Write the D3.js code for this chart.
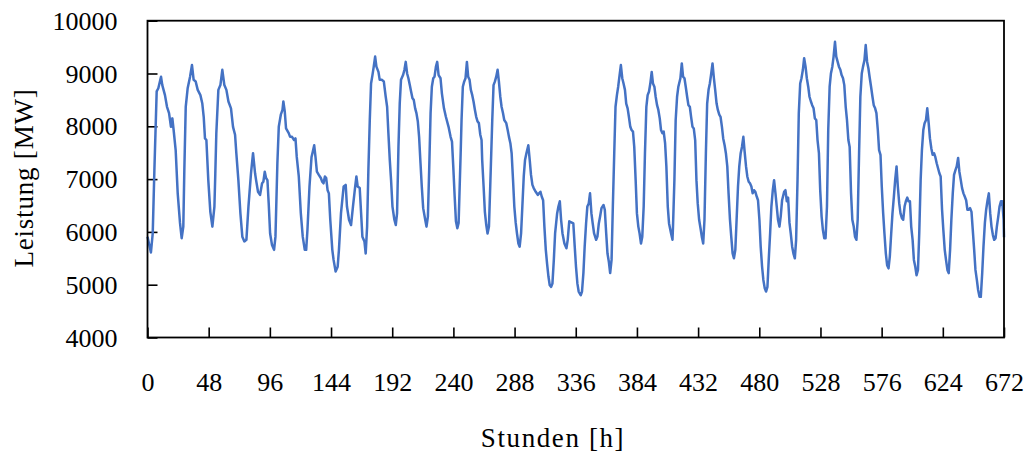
<!DOCTYPE html>
<html>
<head>
<meta charset="utf-8">
<script src="https://cdn.jsdelivr.net/npm/d3@7"></script>
<style>
  body { margin: 0; background: #fff; }
  text { font-family: "Liberation Serif", "DejaVu Serif", serif; fill: #000; }
</style>
</head>
<body>
<script>
// hours, with the matching load in MW
var hours = [
  0, 2.7, 4.1, 5.4, 7.2, 8.5, 10.6, 11.6, 13.7, 15.3, 16.9, 18.4, 19.5, 20.5, 22.1, 23.7, 25.5, 26.8, 28.1, 28.9,
  30, 31.5, 33.4, 34.9, 36.2, 37.8, 39.4, 41.5, 43, 44.1, 45.1, 46.2, 47.7, 49.3, 50.9, 52.5, 53.2, 54, 55.6, 57.2,
  58.7, 60.3, 61.9, 63.5, 65.5, 67.1, 68.7, 69.7, 71.3, 72.9, 74.4, 76, 77.6, 79.2, 81.2, 82.8, 84.4, 85.2, 86.7, 88.3,
  89.9, 90.9, 92, 93, 94.1, 95.1, 96.2, 97.7, 99.3, 100.4, 101.9, 103, 104.6, 105.9, 106.6, 107.7, 108.7, 110.8, 111.9, 113.4,
  115, 116.1, 117.1, 118.7, 120.3, 121.8, 123.4, 124.5, 125.5, 127.1, 128.7, 129.7, 130.8, 131.8, 132.9, 134.4, 136, 137.1, 138.1, 139.2,
  140.2, 141.3, 142.3, 143.4, 145, 146, 147.6, 149.2, 150.2, 151.8, 153.9, 155.5, 156.5, 158.1, 159.7, 161.2, 162.8, 163.9, 164.9, 166.5,
  167.6, 168.6, 170.2, 171.2, 172.3, 173.3, 174.4, 175.4, 176.5, 177.5, 178.6, 179.6, 181.2, 182.2, 183.8, 185.4, 186.9, 188, 189, 190.1,
  191.1, 192.2, 193.7, 194.8, 195.8, 196.9, 197.9, 198.9, 200.5, 201.6, 202.6, 203.7, 204.7, 205.8, 206.8, 207.9, 208.9, 210, 211, 212.1,
  213.1, 214.2, 215.2, 216.3, 217.9, 218.9, 220, 221, 222.1, 223.1, 224.2, 225.2, 226.3, 227.3, 228.4, 229.9, 231, 232.6, 234.1, 236.2,
  237.8, 238.9, 239.9, 241, 242, 243.1, 244.1, 245.7, 246.4, 247.4, 248.5, 249.5, 250.6, 251.6, 252.7, 253.7, 254.8, 255.8, 256.9, 257.9,
  259, 260, 261.1, 262.1, 262.6, 263.7, 264.7, 265.8, 266.8, 267.9, 268.9, 270.5, 271.5, 272.6, 273.6, 274.7, 275.7, 276.8, 277.8, 278.9,
  279.9, 281.5, 282.6, 283.6, 284.7, 285.7, 286.8, 287.8, 288.9, 289.9, 291, 292, 293.1, 294.1, 295.2, 296.2, 297.3, 298.8, 299.9, 300.9,
  302, 303, 304.6, 306.2, 307.2, 308.3, 309.3, 310.4, 311.4, 312.5, 313.5, 314.6, 315.6, 316.7, 317.7, 318.8, 319.8, 321.4, 322.4, 323.5,
  324.5, 325.6, 327.1, 328.7, 329.7, 330.9, 332.5, 334.1, 335.2, 336.2, 337.3, 338.3, 339.9, 340.9, 342, 343, 344.1, 345.1, 346.2, 347.2,
  348.3, 349.3, 350.4, 352, 353, 354.1, 355.1, 356.2, 357.8, 358.8, 359.9, 360.9, 362, 363, 364.1, 365.1, 366.2, 367.2, 368.3, 369.3,
  370.4, 371.4, 372.5, 373.5, 374.6, 375.6, 376.7, 377.7, 378.8, 379.8, 380.9, 381.9, 383, 384, 385.1, 386.1, 387.2, 388.2, 389.3, 390.3,
  391.4, 392.4, 393.5, 394.5, 395.6, 396.6, 397.7, 398.7, 399.8, 400.8, 401.9, 402.9, 404, 405, 406.1, 407.1, 408.2, 409.2, 410.8, 411.9,
  412.3, 413.4, 414.4, 415.5, 416.5, 418.1, 419.2, 420.2, 421.3, 422.3, 423.4, 424.4, 425.5, 426.5, 427.6, 428.6, 429.7, 430.7, 431.7, 432.8,
  433.9, 434.9, 436, 437, 438.1, 439.1, 440.2, 441.2, 442.3, 443.3, 444.4, 445.4, 446.5, 447.5, 448.6, 449.6, 450.7, 451.7, 452.8, 453.8,
  454.9, 455.9, 457, 458, 459.1, 460.1, 461.2, 462.2, 463.3, 464.3, 465.4, 466.4, 467.5, 468.5, 469.6, 470.6, 471.7, 472.7, 473.8, 474.8,
  475.9, 476.9, 478, 479, 480.1, 481.1, 482.2, 483.2, 484.3, 485.3, 486.4, 487.4, 488.5, 489.5, 490.6, 491.6, 492.7, 493.7, 494.7, 495.8,
  496.8, 497.9, 499.5, 500.5, 501.6, 502.6, 503.7, 504.7, 505.8, 506.8, 507.9, 508.9, 510, 511, 512.1, 513.1, 514.2, 515.2, 516.3, 517.3,
  518.4, 519.4, 520.5, 521.5, 522.6, 523.6, 524.7, 525.7, 526.8, 527.8, 528.9, 529.9, 531, 532, 533.1, 534.1, 535.2, 536.2, 537.3, 538.3,
  539.4, 540.4, 541.5, 542.5, 543.6, 544.6, 545.7, 546.7, 547.8, 548.8, 549.9, 550.9, 552, 553, 554.1, 555.1, 556.2, 557.2, 558.3, 559.3,
  560.4, 561.4, 562.5, 563.5, 564.6, 565.6, 566.7, 567.7, 568.8, 569.8, 570.9, 571.9, 573, 574, 575.1, 576.1, 577.2, 578.2, 579.3, 580.3,
  581.4, 582.4, 583.5, 584.5, 585.6, 586.6, 587.7, 588.7, 589.8, 590.8, 591.9, 592.9, 594, 595, 596.1, 597.1, 598.2, 599.2, 600.3, 601.3,
  602.4, 603.4, 604.5, 605.5, 606.6, 607.6, 608.7, 609.7, 610.8, 611.8, 612.9, 613.9, 615, 616, 617.1, 618.1, 619.2, 620.2, 621.3, 622.3,
  623.4, 624.4, 625.5, 626.5, 627.6, 628.6, 629.7, 630.7, 631.8, 632.8, 633.9, 634.9, 636, 637, 638.1, 639.1, 640.2, 641.2, 642.3, 643.3,
  644.4, 645.4, 646.5, 647.5, 648.6, 649.6, 650.7, 651.7, 652.8, 653.8, 654.9, 655.9, 657, 658, 659.1, 660.1, 661.2, 662.2, 663.3, 664.3,
  665.4, 666.4, 667.5, 668.5, 669.6, 670.6, 671.7, 672
];
var load = [
  5910, 5610, 5970, 7170, 8660, 8720, 8940, 8780, 8590, 8370, 8250, 7990, 8150, 7930, 7550, 6730, 6170, 5880, 6100, 7170,
  8370, 8720, 8940, 9160, 8880, 8850, 8690, 8590, 8430, 8180, 7770, 7740, 6980, 6380, 6100, 6480, 7100, 7870, 8690, 8780,
  9070, 8780, 8690, 8470, 8340, 7990, 7840, 7490, 6980, 6350, 5910, 5820, 5850, 6480, 7110, 7490, 7110, 6980, 6760, 6700,
  6920, 6950, 7140, 7020, 6980, 6540, 5970, 5750, 5660, 5910, 7300, 7990, 8220, 8310, 8470, 8280, 7960, 7870, 7800, 7800,
  7740, 7770, 7420, 7050, 6350, 5910, 5660, 5660, 6040, 6860, 7420, 7520, 7640, 7420, 7140, 7080, 7020, 6950, 6920, 7050,
  7020, 6790, 6730, 6230, 5660, 5470, 5250, 5340, 5660, 6350, 6860, 6890, 6480, 6230, 6130, 6480, 6830, 7050, 6860, 6830,
  6350, 5910, 5820, 5590, 6100, 7170, 8120, 8810, 8970, 9130, 9320, 9130, 9030, 8880, 8880, 8850, 8560, 8370, 7870, 7360,
  6980, 6480, 6230, 6130, 6350, 7610, 8430, 8880, 8970, 9070, 9220, 9000, 8910, 8780, 8660, 8530, 8500, 8340, 8250, 8090,
  7800, 7300, 6860, 6450, 6230, 6100, 6290, 7170, 8250, 8750, 8910, 8940, 9130, 9220, 8970, 8910, 8620, 8340, 8180, 7990,
  7800, 7710, 7240, 6670, 6200, 6070, 6170, 7490, 8120, 8750, 8850, 8910, 9220, 8940, 8880, 8690, 8590, 8470, 8310, 8180,
  8090, 8060, 7840, 7740, 7360, 6860, 6380, 6130, 5970, 6100, 6860, 8120, 8780, 8850, 8940, 9070, 8850, 8560, 8370, 8250,
  8120, 8060, 7930, 7800, 7680, 7490, 6980, 6480, 6170, 5970, 5780, 5720, 5970, 6480, 7050, 7360, 7490, 7640, 7360, 7080,
  6890, 6830, 6760, 6700, 6730, 6760, 6670, 6600, 6100, 5660, 5400, 5150, 4990, 4960, 5020, 5470, 5970, 6350, 6480, 6580,
  6230, 5970, 5780, 5690, 5850, 6200, 6180, 6160, 5720, 5340, 5020, 4870, 4800, 4870, 5220, 5720, 6160, 6480, 6540, 6730,
  6350, 6160, 5970, 5850, 5910, 6160, 6290, 6450, 6510, 6420, 5970, 5590, 5430, 5220, 5470, 6480, 7490, 8370, 8590, 8750,
  8970, 9160, 8910, 8810, 8690, 8430, 8340, 8180, 7990, 7930, 7900, 7610, 6980, 6350, 6100, 5970, 5780, 5910, 6480, 7490,
  8370, 8590, 8660, 8810, 9030, 8810, 8750, 8560, 8400, 8310, 8150, 7930, 7870, 7900, 7680, 7240, 6480, 6160, 5970, 5850,
  6100, 6980, 8120, 8560, 8750, 8910, 9190, 8940, 8910, 8750, 8560, 8400, 8370, 8180, 7990, 7960, 7740, 6980, 6540, 6230,
  6070, 5910, 5780, 6230, 7490, 8430, 8690, 8810, 9000, 9190, 8910, 8690, 8430, 8310, 8220, 8180, 7990, 7770, 7640, 7490,
  7240, 6730, 6230, 5910, 5590, 5500, 5660, 6230, 6860, 7240, 7490, 7610, 7800, 7520, 7240, 7050, 6950, 6920, 6860, 6730,
  6790, 6760, 6670, 6600, 6230, 5720, 5340, 5090, 4930, 4870, 4960, 5470, 5970, 6480, 6790, 6980, 6730, 6480, 6230, 6100,
  6290, 6600, 6760, 6790, 6580, 6650, 6170, 5970, 5720, 5590, 5500, 5850, 6980, 8250, 8810, 8910, 9070, 9290, 9130, 8910,
  8750, 8560, 8470, 8400, 8340, 8150, 8120, 7740, 7490, 6790, 6290, 6040, 5880, 5880, 6480, 7930, 8750, 9000, 9130, 9320,
  9600, 9320, 9220, 9130, 9070, 8970, 8910, 8780, 8370, 8120, 7740, 7610, 6730, 6230, 6100, 5910, 5850, 6230, 7490, 8560,
  9000, 9130, 9250, 9540, 9220, 9100, 8910, 8750, 8560, 8400, 8340, 8250, 7930, 7550, 7460, 6860, 6350, 5970, 5590, 5370,
  5310, 5530, 5970, 6350, 6670, 6980, 7240, 6860, 6540, 6350, 6260, 6230, 6480, 6580, 6650, 6580, 6580, 6100, 5850, 5470,
  5340, 5180, 5280, 5970, 6980, 7550, 7930, 8060, 8120, 8340, 8060, 7770, 7580, 7460, 7490, 7420, 7300, 7210, 7110, 7050,
  6420, 6040, 5660, 5470, 5280, 5220, 5660, 6230, 6730, 7080, 7170, 7240, 7400, 7140, 6980, 6830, 6730, 6670, 6600, 6420,
  6420, 6450, 6380, 6040, 5660, 5280, 5090, 4900, 4770, 4770, 5220, 5720, 6170, 6420, 6600, 6730, 6350, 6100, 5940, 5850,
  5880, 6100, 6290, 6480, 6580, 6580, 6230, 5900
];

var xTicks = [0, 48, 96, 144, 192, 240, 288, 336, 384, 432, 480, 528, 576, 624, 672];
var yTicks = [4000, 5000, 6000, 7000, 8000, 9000, 10000];

var serif = '"Liberation Serif", "DejaVu Serif", serif';

var margin = { top: 20.7, right: 23, bottom: 123.5, left: 147.5 };
var fullWidth = 1027, fullHeight = 461;
var width = fullWidth - margin.left - margin.right;
var height = fullHeight - margin.top - margin.bottom;

var x = d3.scaleLinear().domain([0, 672]).range([0, width]);
var y = d3.scaleLinear().domain([4000, 10000]).range([height, 0]);

var svg = d3.select('body').append('svg')
    .attr('width', fullWidth)
    .attr('height', fullHeight);

var g = svg.append('g')
    .attr('transform', 'translate(' + margin.left + ',' + margin.top + ')');

var xAxis = d3.axisBottom(x).tickValues(xTicks).tickFormat(d3.format('d'))
    .tickSizeInner(-10).tickSizeOuter(0);
var yAxis = d3.axisLeft(y).tickValues(yTicks).tickFormat(d3.format('d'))
    .tickSizeInner(-10).tickSizeOuter(0).tickPadding(30);

var gx = g.append('g')
    .attr('transform', 'translate(0,' + height + ')')
    .call(xAxis)
    .attr('font-family', serif);
gx.select('.domain').remove();
gx.selectAll('line').attr('stroke', '#000').attr('stroke-width', 1.6);
gx.selectAll('text')
    .attr('y', 53.5)
    .attr('dy', null)
    .style('font-family', serif)
    .style('font-size', '26px');

var gy = g.append('g').call(yAxis)
    .attr('font-family', serif);
gy.select('.domain').remove();
gy.selectAll('line').attr('stroke', '#000').attr('stroke-width', 1.6);
gy.selectAll('text')
    .attr('dy', '0.33em')
    .style('font-family', serif)
    .style('font-size', '26px');

var line = d3.line()
    .x(function(d, i) { return x(hours[i]); })
    .y(function(d) { return y(d); });

g.append('path')
    .datum(load)
    .attr('fill', 'none')
    .attr('stroke', '#4472C4')
    .attr('stroke-width', 2.5)
    .attr('stroke-linejoin', 'round')
    .attr('d', line);

// frame
g.append('rect')
    .attr('width', width)
    .attr('height', height)
    .attr('fill', 'none')
    .attr('stroke', '#000')
    .attr('stroke-width', 1.8);

svg.append('text')
    .attr('transform', 'translate(33,178) rotate(-90)')
    .style('text-anchor', 'middle')
    .style('font-size', '27px')
    .style('letter-spacing', '0.8px')
    .text('Leistung [MW]');

svg.append('text')
    .attr('x', 553)
    .attr('y', 447)
    .style('text-anchor', 'middle')
    .style('font-size', '27px')
    .style('letter-spacing', '1.6px')
    .text('Stunden [h]');
</script>
</body>
</html>
